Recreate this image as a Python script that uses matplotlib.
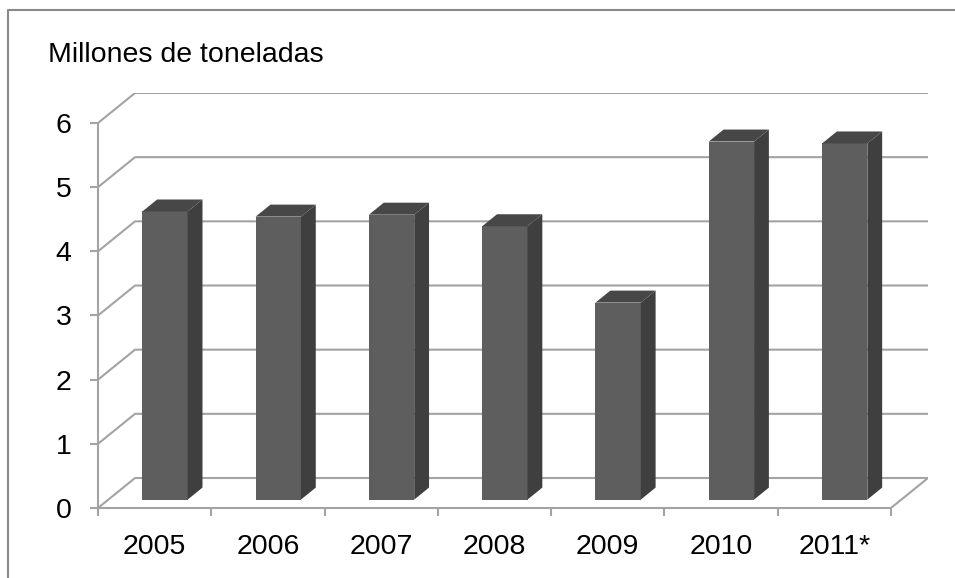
import matplotlib
matplotlib.use("Agg")
import matplotlib.pyplot as plt
from matplotlib.patches import Polygon, Rectangle
from matplotlib.lines import Line2D

plt.rcParams['font.family'] = ['Liberation Sans', 'DejaVu Sans']

# datos
years = ["2005", "2006", "2007", "2008", "2009", "2010", "2011*"]
values = [4.49, 4.41, 4.44, 4.26, 3.07, 5.58, 5.55]
yticks = [0, 1, 2, 3, 4, 5, 6]
ylabel = "Millones de toneladas"

# estilo
GRID = "#a3a3a3"
FRONT = "#5e5e5e"
SIDE = "#3f3f3f"
TOP = "#474747"
DX, DY = 0.327, 0.4675   # profundidad del "3D" en unidades de datos
W = 0.40                 # ancho de la barra
F1 = 0.28                # posicion de la cara frontal en la profundidad
BD = 0.40                # profundidad de la barra
FS = 20.5

n = len(years)
ymax = yticks[-1]

fig = plt.figure(figsize=(9.55, 5.78), dpi=100)
ax = fig.add_axes([98/955, 70/578, 830/955, 415/578])
ax.set_xlim(0, n + DX)
ax.set_ylim(0, ymax + DY)

# pared del fondo y suelo
for v in yticks:
    ax.add_line(Line2D([0, DX, n + DX], [v, v + DY, v + DY], color=GRID, lw=1.5, zorder=1))
ax.add_line(Line2D([n, n + DX], [0, DY], color=GRID, lw=1.5, zorder=1))

# barras
for i, v in enumerate(values):
    x0 = i + 0.5 - W/2 + F1*DX
    y0 = F1*DY
    bx, by = BD*DX, BD*DY
    ax.add_patch(Rectangle((x0, y0), W, v, facecolor=FRONT, edgecolor="none", zorder=3))
    ax.add_patch(Polygon([(x0 + W, y0), (x0 + W + bx, y0 + by), (x0 + W + bx, y0 + v + by), (x0 + W, y0 + v)],
                         closed=True, facecolor=SIDE, edgecolor="none", zorder=3))
    ax.add_patch(Polygon([(x0, y0 + v), (x0 + bx, y0 + v + by), (x0 + W + bx, y0 + v + by), (x0 + W, y0 + v)],
                         closed=True, facecolor=TOP, edgecolor="none", zorder=3))

# ejes
for s in ["top", "right"]:
    ax.spines[s].set_visible(False)
ax.spines["left"].set_bounds(0, ymax)
ax.spines["bottom"].set_bounds(0, n)
for s in ["left", "bottom"]:
    ax.spines[s].set_color(GRID)
    ax.spines[s].set_linewidth(1.5)

ax.set_yticks(yticks)
ax.set_yticklabels([str(t) for t in yticks])
ax.tick_params(axis="y", length=6, width=1.5, color=GRID, pad=13, labelsize=FS)

ax.set_xticks(range(n + 1))
ax.set_xticklabels([])
ax.set_xticks([i + 0.5 for i in range(n)], minor=True)
ax.set_xticklabels(years, minor=True)
ax.tick_params(axis="x", which="major", length=6, width=1.5, color=GRID)
ax.tick_params(axis="x", which="minor", length=0, pad=19, labelsize=FS)

fig.text(48/955, 1 - 62/578, ylabel, fontsize=FS, va="baseline", ha="left")

# borde del grafico
fig.add_artist(Line2D([8/955, 8/955, 1.01], [-0.01, 1 - 10/578, 1 - 10/578],
                      transform=fig.transFigure, color="#8a8a8a", lw=1.5))

fig.savefig("out.png", dpi=100)
